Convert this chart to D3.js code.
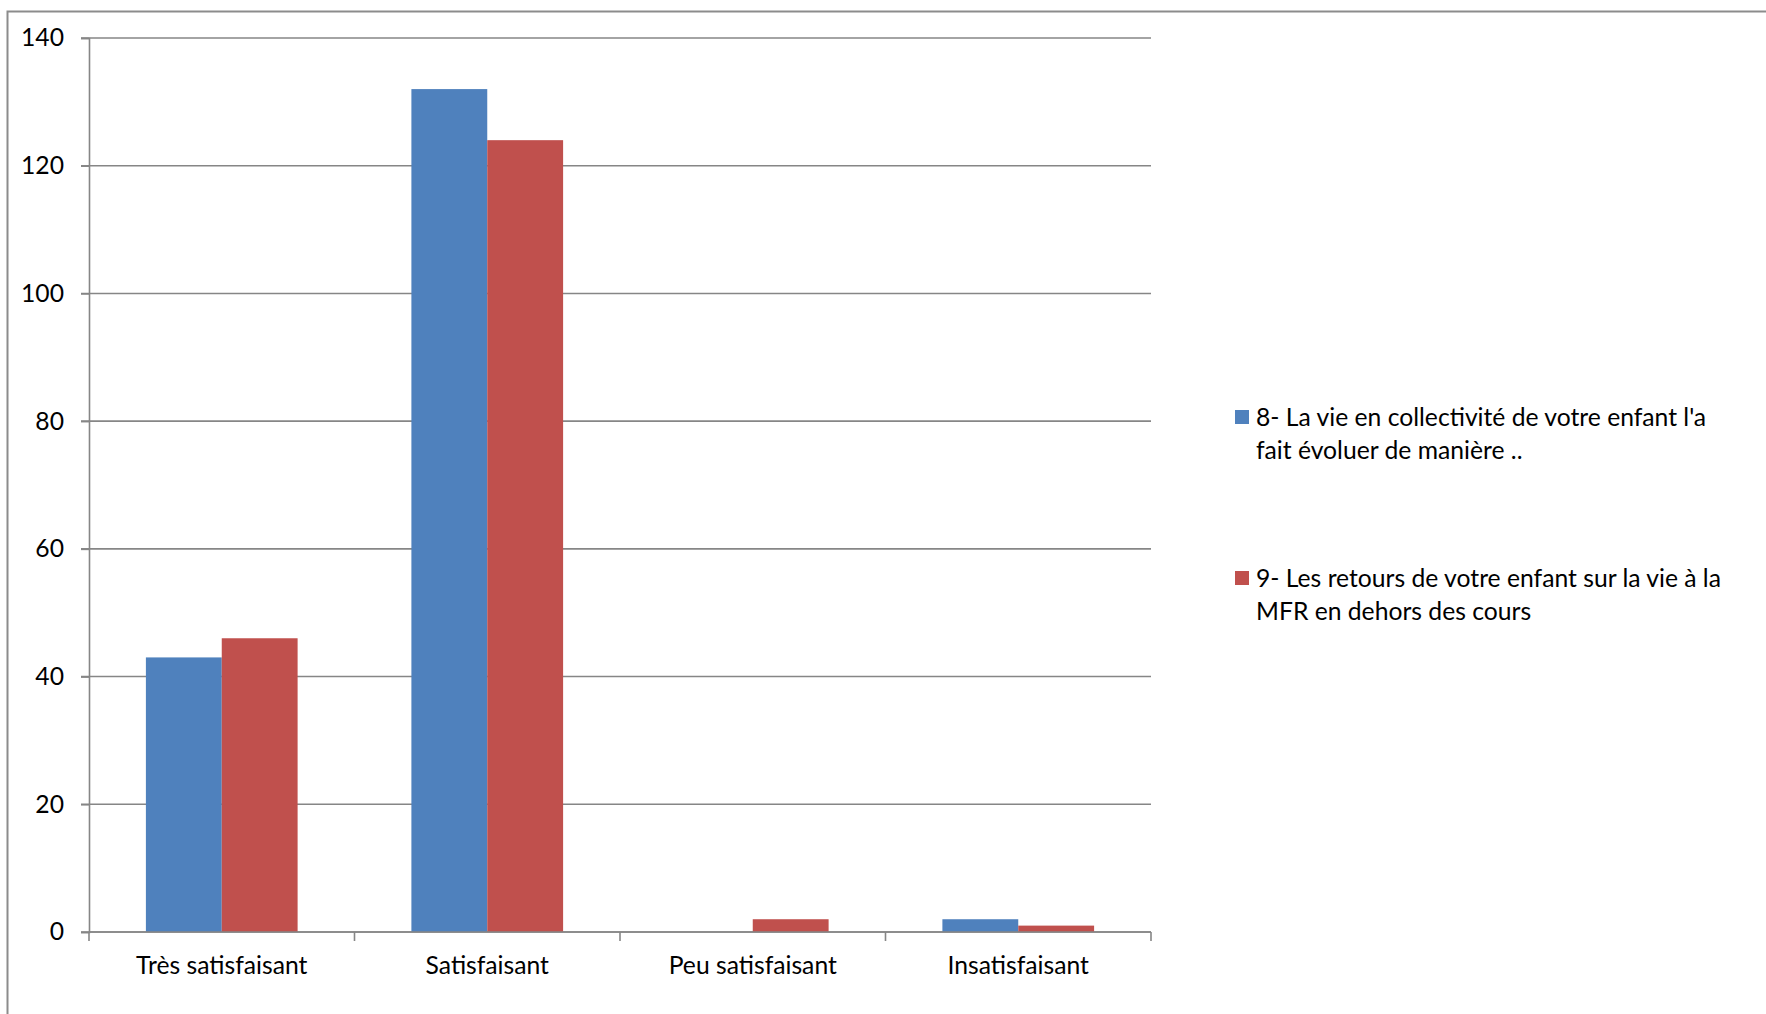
<!DOCTYPE html>
<html>
<head>
<meta charset="utf-8">
<script src="https://cdn.jsdelivr.net/npm/d3@7"></script>
<style>
  html, body { margin: 0; padding: 0; background: #fff; overflow: hidden; }
  svg text { font-family: Lato, "Open Sans", sans-serif; fill: #000; }
</style>
</head>
<body>
<svg id="chart" width="1766" height="1014"></svg>
<script>
const categories = ["Très satisfaisant", "Satisfaisant", "Peu satisfaisant", "Insatisfaisant"];
const seriesNames = [
  "8- La vie en collectivité de votre enfant l'a fait évoluer de manière ..",
  "9- Les retours de votre enfant sur la vie à la MFR en dehors des cours"
];
const seriesLegendLines = [
  ["8- La vie en collectivité de votre enfant l'a", "fait évoluer de manière .."],
  ["9- Les retours de votre enfant sur la vie à la", "MFR en dehors des cours"]
];
const series1 = [43, 132, 0, 2];
const series2 = [46, 124, 2, 1];
const yTicks = [0, 20, 40, 60, 80, 100, 120, 140];
const colors = ["#4F81BD", "#C0504D"];

const svg = d3.select("#chart");
const gridColor = "#868686";
const fontSize = 24.7;

// outer frame
svg.append("rect").attr("x", 7.5).attr("y", 11.5).attr("width", 1900).attr("height", 1200)
  .attr("fill", "none").attr("stroke", "#8c8c8c").attr("stroke-width", 2);

const pLeft = 89, pRight = 1151, pTop = 38, pBottom = 932;
const x = d3.scaleBand().domain(categories).range([pLeft, pRight]).paddingInner(0).paddingOuter(0);
const xs = d3.scaleBand().domain([0, 1]).range([0, x.bandwidth()]).paddingInner(0).paddingOuter(0.75);
const y = d3.scaleLinear().domain([0, 140]).range([pBottom, pTop]);

// gridlines
svg.append("g").selectAll("line").data(yTicks).join("line")
  .attr("x1", pLeft - 8).attr("x2", pRight)
  .attr("y1", d => y(d)).attr("y2", d => y(d))
  .attr("stroke", gridColor).attr("stroke-width", 1.6);

// y axis
const yAxis = svg.append("g").attr("transform", `translate(${pLeft},0)`)
  .call(d3.axisLeft(y).tickValues(yTicks).tickSize(8).tickPadding(17));
yAxis.select(".domain").attr("stroke", gridColor).attr("stroke-width", 1.6);
yAxis.selectAll(".tick line").attr("stroke", gridColor).attr("stroke-width", 1.6);
yAxis.selectAll(".tick text").attr("font-size", fontSize).attr("font-family", "Lato, sans-serif").attr("fill", "#000");

// bars
const data = categories.map((c, i) => ({ c, vals: [series1[i], series2[i]] }));
const groups = svg.append("g").selectAll("g").data(data).join("g")
  .attr("transform", d => `translate(${x(d.c)},0)`);
groups.selectAll("rect").data(d => d.vals.map((v, j) => ({ v, j }))).join("rect")
  .attr("x", d => xs(d.j)).attr("width", xs.bandwidth())
  .attr("y", d => y(d.v)).attr("height", d => y(0) - y(d.v))
  .attr("fill", d => colors[d.j]);

// x axis
const xAxis = svg.append("g").attr("transform", `translate(0,${pBottom})`)
  .call(d3.axisBottom(x).tickSize(0).tickPadding(24));
xAxis.select(".domain").remove();
xAxis.append("line").attr("x1", pLeft).attr("x2", pRight).attr("y1", 0).attr("y2", 0)
  .attr("stroke", gridColor).attr("stroke-width", 1.6);
const tickPos = categories.map(c => x(c)).concat([pRight]);
xAxis.selectAll(".septick").data(tickPos).join("line").attr("class", "septick")
  .attr("x1", d => d).attr("x2", d => d).attr("y1", 0).attr("y2", 9)
  .attr("stroke", gridColor).attr("stroke-width", 1.6);
xAxis.selectAll(".tick text").attr("font-size", fontSize).attr("font-family", "Lato, sans-serif").attr("fill", "#000")
  .attr("dy", "0.71em");

// legend
const legendY = [410, 571];
const legend = svg.append("g");
seriesLegendLines.forEach((lines, i) => {
  const g = legend.append("g").attr("transform", `translate(1235,${legendY[i]})`);
  g.append("rect").attr("x", 0).attr("y", 0).attr("width", 14).attr("height", 14).attr("fill", colors[i]);
  lines.forEach((t, k) => {
    g.append("text").attr("x", 21).attr("y", 16 + k * 33).attr("font-size", fontSize).text(t);
  });
});
</script>
</body>
</html>
